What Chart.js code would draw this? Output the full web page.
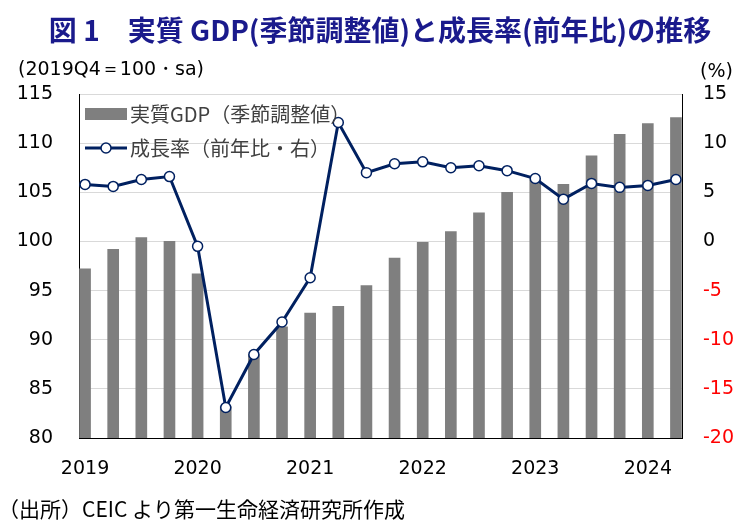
<!DOCTYPE html>
<html lang="ja">
<head>
<meta charset="UTF-8">
<title>図1 実質GDP(季節調整値)と成長率(前年比)の推移</title>
<script src="https://cdn.jsdelivr.net/npm/chart.js"></script>
<style>
    html, body { margin: 0; padding: 0; background: #fff; }
    #wrap { width: 745px; height: 523px; }
</style>
</head>
<body>
<div id="wrap"><canvas id="gdpChart" width="745" height="523"></canvas></div>
<script>
    // 四半期ラベル
    const quarters = ['2019Q1', '2019Q2', '2019Q3', '2019Q4',
                      '2020Q1', '2020Q2', '2020Q3', '2020Q4',
                      '2021Q1', '2021Q2', '2021Q3', '2021Q4',
                      '2022Q1', '2022Q2', '2022Q3', '2022Q4',
                      '2023Q1', '2023Q2', '2023Q3', '2023Q4',
                      '2024Q1', '2024Q2'];
    // 実質GDP (2019Q4=100, 季節調整値)
    const gdpIndex = [97.2, 99.2, 100.4, 100.0, 96.7, 83.2, 88.5, 91.3,
                      92.7, 93.4, 95.5, 98.3, 99.9, 101.0, 102.9, 105.0,
                      106.3, 105.8, 108.7, 110.9, 112.0, 112.6];
    // 成長率 (前年比, %)
    const growthYoY = [5.8, 5.6, 6.3, 6.6, -0.5, -16.9, -11.5, -8.2,
                       -3.7, 12.1, 7.0, 7.9, 8.1, 7.5, 7.7, 7.2,
                       6.4, 4.3, 5.9, 5.5, 5.7, 6.3];

    const titleText = '図 1　実質 GDP(季節調整値)と成長率(前年比)の推移';
    const leftUnit = '(2019Q4＝100・sa)';
    const rightUnit = '(%)';
    const sourceText = '（出所）CEIC より第一生命経済研究所作成';

    const barLabel = '実質GDP（季節調整値）';
    const lineLabel = '成長率（前年比・右）';

    const NAVY = '#002060';
    const GRAY = '#7f7f7f';
    const NUM_FONT = '"DejaVu Sans", sans-serif';
    const JP_FONT = '"Noto Sans CJK JP", sans-serif';

    // 年の目盛りは各年のQ1に置く
    const yearTickIdx = quarters.map((q, i) => q.endsWith('Q1') ? i : -1).filter(i => i >= 0);

    const textPlugin = {
        id: 'textPlugin',
        afterDatasetsDraw(chart) {
            // 凡例 (プロット内 左上)
            const ctx = chart.ctx;
            const x0 = chart.chartArea.left + 6;
            ctx.save();
            ctx.font = '20px ' + JP_FONT;
            ctx.textBaseline = 'middle';
            ctx.textAlign = 'left';

            ctx.fillStyle = GRAY;
            ctx.fillRect(x0, 108, 42, 12);
            ctx.fillStyle = '#404040';
            ctx.fillText(chart.data.datasets[1].label, x0 + 45, 114);

            ctx.strokeStyle = NAVY;
            ctx.lineWidth = 3;
            ctx.beginPath();
            ctx.moveTo(x0, 148);
            ctx.lineTo(x0 + 42, 148);
            ctx.stroke();
            ctx.beginPath();
            ctx.arc(x0 + 21, 148, 5, 0, Math.PI * 2);
            ctx.fillStyle = '#fff';
            ctx.fill();
            ctx.lineWidth = 1.5;
            ctx.stroke();
            ctx.fillStyle = '#404040';
            ctx.fillText(chart.data.datasets[0].label, x0 + 45, 148);
            ctx.restore();
        },
        afterDraw(chart) {
            const ctx = chart.ctx;
            ctx.save();
            ctx.textBaseline = 'middle';

            ctx.fillStyle = '#1a1a8c';
            ctx.font = 'bold 28px ' + JP_FONT;
            ctx.textAlign = 'center';
            ctx.fillText(titleText, 380, 30);

            ctx.fillStyle = '#000';
            ctx.font = '19px ' + NUM_FONT;
            ctx.textAlign = 'left';
            ctx.fillText(leftUnit, 18, 70);
            ctx.fillText(rightUnit, 700, 72);

            ctx.font = '21px ' + JP_FONT;
            ctx.fillText(sourceText, -2, 509);
            ctx.restore();
        }
    };

    const ctx = document.getElementById('gdpChart').getContext('2d');
    new Chart(ctx, {
        type: 'bar',
        data: {
            datasets: [{
                type: 'line',
                label: lineLabel,
                data: growthYoY.map((v, i) => ({ x: i, y: v })),
                yAxisID: 'y1',
                borderColor: NAVY,
                borderWidth: 3,
                pointRadius: 5,
                pointBorderWidth: 1.5,
                pointBackgroundColor: '#fff',
                pointBorderColor: NAVY,
                tension: 0,
                order: 0
            }, {
                type: 'bar',
                label: barLabel,
                data: gdpIndex.map((v, i) => ({ x: i, y: v })),
                yAxisID: 'y',
                backgroundColor: GRAY,
                barThickness: 11,
                order: 1
            }]
        },
        options: {
            responsive: false,
            animation: false,
            layout: { padding: { top: 94, left: 0, right: 0, bottom: 45 } },
            plugins: {
                legend: { display: false },
                tooltip: { enabled: false }
            },
            scales: {
                x: {
                    type: 'linear',
                    offset: false,
                    min: -0.215,
                    max: quarters.length - 1 + 0.215,
                    grid: { display: false, drawTicks: false },
                    border: { display: true, color: '#000', width: 1 },
                    afterBuildTicks: s => { s.ticks = yearTickIdx.map(v => ({ value: v })); },
                    afterFit: s => { s.height = 40; },
                    ticks: {
                        padding: 20,
                        maxRotation: 0,
                        autoSkip: false,
                        color: '#000',
                        font: { family: NUM_FONT, size: 19 },
                        callback: v => quarters[v] ? quarters[v].slice(0, 4) : ''
                    }
                },
                y: {
                    position: 'left',
                    min: 80,
                    max: 115,
                    grid: { color: '#d9d9d9', lineWidth: 1, drawTicks: false },
                    border: { display: true, color: '#000', width: 1 },
                    afterFit: s => { s.width = 79; },
                    ticks: {
                        stepSize: 5,
                        padding: 26,
                        color: '#000',
                        font: { family: NUM_FONT, size: 19 }
                    }
                },
                y1: {
                    position: 'right',
                    min: -20,
                    max: 15,
                    grid: { display: false, drawTicks: false },
                    border: { display: true, color: '#000', width: 1 },
                    afterFit: s => { s.width = 63; },
                    ticks: {
                        stepSize: 5,
                        padding: 21,
                        color: c => c.tick.value < 0 ? '#ff0000' : '#000',
                        font: { family: NUM_FONT, size: 19 }
                    }
                }
            }
        },
        plugins: [textPlugin]
    });
</script>
</body>
</html>
